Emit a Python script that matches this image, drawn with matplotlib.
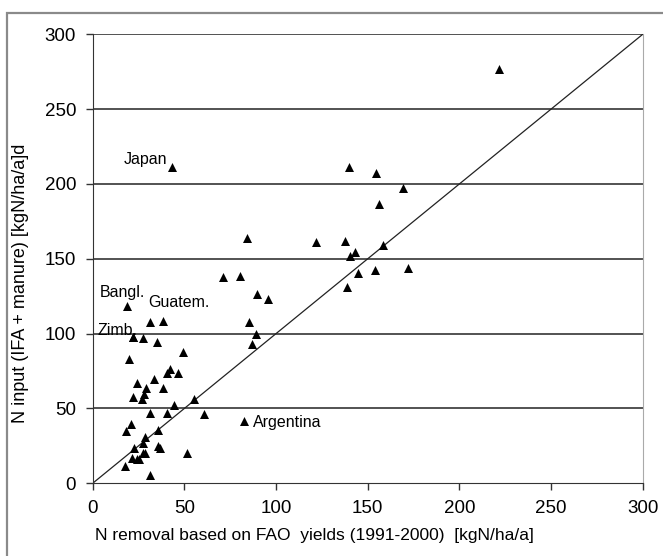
import matplotlib
matplotlib.use("Agg")
import matplotlib.pyplot as plt
from matplotlib.patches import Rectangle

plt.rcParams['font.family'] = ['Liberation Sans', 'DejaVu Sans']

# N removal (x) and N input (y), kgN/ha/a
n_removal = [17.5, 21.2, 24.0, 25.5, 27.2, 28.8, 22.4, 35.8, 36.5, 51.5, 31.2,
             27.6, 28.7, 35.8, 18.2, 20.7, 31.3, 40.4, 60.7, 44.4, 55.4, 21.8,
             26.9, 28.0, 29.1, 38.5, 24.0, 33.6, 40.7, 42.2, 46.5, 20.0, 49.4,
             35.2, 21.8, 27.3, 38.2,
             87.1, 88.9, 85.3, 95.5, 89.5, 71.3, 80.4, 84.3, 121.8, 137.6,
             143.3, 140.4, 158.5, 144.9, 154.0, 171.8, 138.9, 140.0, 154.5,
             169.1, 156.2, 221.5]
n_input = [11.8, 17.1, 16.0, 16.0, 20.0, 20.4, 23.3, 24.9, 23.3, 20.0, 5.6,
           27.1, 30.7, 35.6, 34.9, 39.4, 46.8, 47.2, 46.3, 52.1, 56.3, 57.4,
           56.5, 59.7, 63.5, 63.5, 67.2, 69.7, 73.5, 76.4, 73.5, 83.0, 87.5,
           94.4, 97.9, 97.3, 108.2,
           93.1, 99.5, 108.0, 122.9, 126.5, 137.6, 138.5, 163.6, 161.5, 161.7,
           154.3, 151.8, 159.0, 140.3, 142.5, 143.6, 131.3, 211.5, 207.5,
           197.1, 186.6, 276.5]

# labelled countries
countries = ['Japan', 'Bangl.', 'Guatem.', 'Zimb.', 'Argentina']
country_x = [43.1, 18.9, 31.3, 21.8, 82.6]
country_y = [211.5, 118.4, 107.6, 97.9, 41.6]

fig = plt.figure(figsize=(6.63, 5.56), dpi=100)
ax = fig.add_axes([0.1398, 0.1308, 0.8296, 0.8075])

# outer frame
fig.patches.append(Rectangle((0.010, -0.05), 1.2, 0.027 + 1.0, transform=fig.transFigure,
                             fill=False, edgecolor='#8a8a8a', linewidth=1.6))

for gy in [50, 100, 150, 200, 250, 300]:
    ax.axhline(gy, color='#444444', linewidth=1.3, zorder=1)
ax.plot([0, 300], [0, 300], color='#222222', linewidth=0.9, zorder=2)

ax.scatter(n_removal, n_input, marker='^', s=42, color='black', zorder=3, linewidths=0)
ax.scatter(country_x, country_y, marker='^', s=42, color='black', zorder=3, linewidths=0)

# country labels
ax.text(40.6, 216.5, countries[0], ha='right', va='center', fontsize=11.5)
ax.text(4.0, 127.8, countries[1], ha='left', va='center', fontsize=11.5)
ax.text(30.2, 121.1, countries[2], ha='left', va='center', fontsize=11.5)
ax.text(2.4, 102.4, countries[3], ha='left', va='center', fontsize=11.5)
ax.text(87.5, 40.7, countries[4], ha='left', va='center', fontsize=11.5)

ax.set_xlim(0, 300)
ax.set_ylim(0, 300)
ax.set_xticks(range(0, 301, 50))
ax.set_yticks(range(0, 301, 50))
ax.tick_params(direction='out', length=5, width=1, colors='#333333',
               labelsize=13.5, labelcolor='black', pad=7)

ax.spines['left'].set_color('#333333')
ax.spines['bottom'].set_color('#333333')
ax.spines['right'].set_color('#aaaaaa')
ax.spines['top'].set_visible(False)

ax.set_xlabel('N removal based on FAO  yields (1991-2000)  [kgN/ha/a]', fontsize=12.5, ha='left')
ax.xaxis.set_label_coords(0.004, -0.1)
ax.set_ylabel('N input (IFA + manure) [kgN/ha/a]d', fontsize=13)
ax.yaxis.set_label_coords(-0.115, 0.445)

fig.savefig('out.png', dpi=100)
